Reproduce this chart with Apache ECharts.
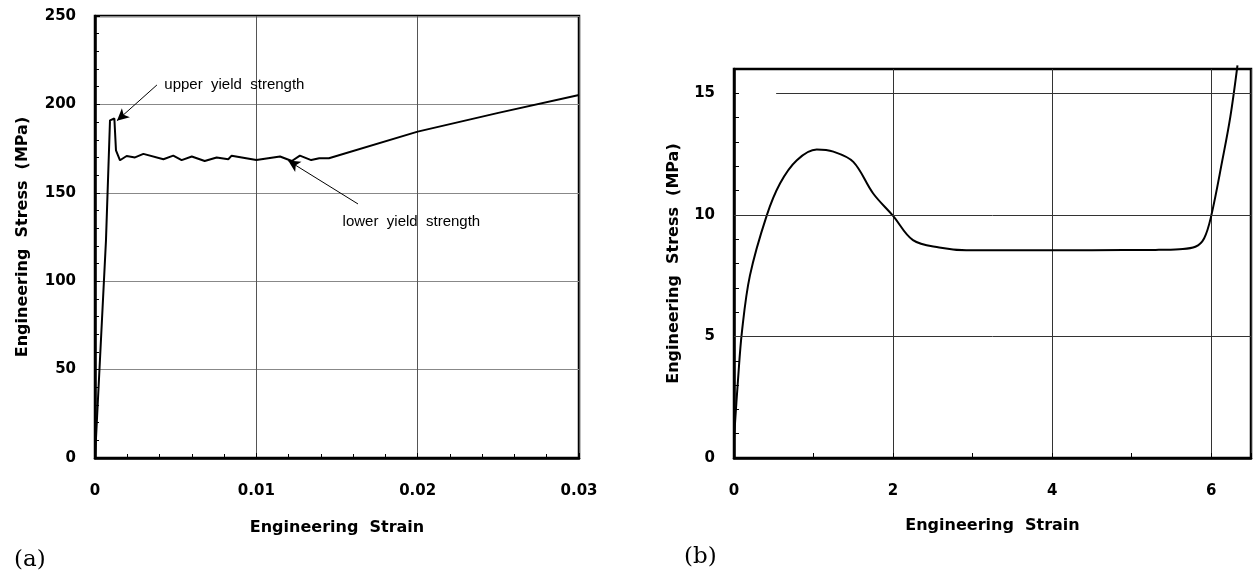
<!DOCTYPE html>
<html>
<head>
<meta charset="utf-8">
<script src="https://cdn.jsdelivr.net/npm/echarts@6/dist/echarts.min.js"></script>
<style>
  html, body { margin: 0; padding: 0; background: #fff; }
  #main { width: 1253px; height: 577px; }
</style>
</head>
<body>
<div id="main"></div>
<script>
// (a) low-carbon steel: strain / stress (MPa)
const strainA = [0, 0.00068, 0.00093, 0.0012, 0.0013, 0.00155, 0.00196, 0.00248, 0.003, 0.00424,
  0.00485, 0.00537, 0.006, 0.0068, 0.00754, 0.00826, 0.00847, 0.010, 0.01147, 0.0122, 0.0127,
  0.0134, 0.0139, 0.0145, 0.020, 0.025, 0.030];
const stressA = [0, 123, 191, 192, 174, 168.4, 170.8, 170, 172, 169,
  171, 168.5, 170.5, 168, 170, 169, 171, 168.5, 170.5, 168, 171,
  168.5, 169.5, 169.5, 184.6, 195.2, 205.3];

// (b) polymer: strain / stress (MPa)
const strainB = [0, 0.05, 0.1, 0.2, 0.41, 0.58, 0.79, 1.04, 1.25, 1.5, 1.75,
  2.0, 2.25, 2.58, 2.92, 3.5, 4.5, 5.3, 5.6, 5.8, 5.91, 6.0, 6.14, 6.24, 6.33];
const stressB = [0.8, 3.2, 5.2, 7.5, 9.96, 11.3, 12.25, 12.69, 12.6, 12.18, 10.88,
  9.96, 8.96, 8.66, 8.55, 8.55, 8.55, 8.56, 8.59, 8.69, 9.03, 9.96, 12.25, 14.03, 16.15];
const gridLinesB = [5, 10];

const upperArrow = [[0.00384, 211], [0.00136, 190.8]];
const lowerArrow = [[0.0163, 143.7], [0.01197, 168.2]];

const chart = echarts.init(document.getElementById('main'));

const labelFont = { fontFamily: 'DejaVu Sans', fontWeight: 'bold', fontSize: 15, color: '#000' };
const nameFont = { fontFamily: 'DejaVu Sans', fontWeight: 'bold', fontSize: 16, color: '#000' };
const noteFont = { fontFamily: 'Liberation Sans', fontSize: 15, color: '#000' };

function pair(xs, ys) {
  return xs.map((x, i) => [x, ys[i]]);
}

let option = {
  animation: false,
  backgroundColor: '#fff',
  grid: [
    { left: 95, top: 16, width: 484, height: 442, show: true, borderColor: '#000', borderWidth: 2.5, outerBoundsMode: 'none' },
    { left: 734, top: 69, width: 517, height: 389, show: true, borderColor: '#000', borderWidth: 2.5, outerBoundsMode: 'none' }
  ],
  xAxis: [
    {
      gridIndex: 0, type: 'value', min: 0, max: 0.03, interval: 0.01,
      name: 'Engineering  Strain', nameLocation: 'middle', nameGap: 62, nameTextStyle: nameFont,
      axisLine: { lineStyle: { color: '#000', width: 2.5 } },
      axisTick: { inside: true, length: 5, lineStyle: { color: '#000' } },
      minorTick: { show: true, splitNumber: 5, length: 4, lineStyle: { color: '#000' } },
      axisLabel: { ...labelFont, margin: 26 },
      splitLine: { show: true, lineStyle: { color: '#555', width: 1 } }
    },
    {
      gridIndex: 1, type: 'value', min: 0, max: 6.5, interval: 2,
      name: 'Engineering  Strain', nameLocation: 'middle', nameGap: 60, nameTextStyle: nameFont,
      axisLine: { lineStyle: { color: '#000', width: 2.5 } },
      axisTick: { inside: true, length: 5, lineStyle: { color: '#000' } },
      minorTick: { show: true, splitNumber: 2, length: 5, lineStyle: { color: '#000' } },
      axisLabel: { ...labelFont, margin: 26, showMaxLabel: false },
      splitLine: { show: true, lineStyle: { color: '#333', width: 1 } }
    }
  ],
  yAxis: [
    {
      gridIndex: 0, type: 'value', min: 0, max: 250, interval: 50,
      name: 'Engineering  Stress  (MPa)', nameLocation: 'middle', nameGap: 64, nameTextStyle: nameFont,
      axisLine: { lineStyle: { color: '#000', width: 2.5 } },
      axisTick: { inside: true, length: 5, lineStyle: { color: '#000' } },
      minorTick: { show: true, splitNumber: 5, length: 4, lineStyle: { color: '#000' } },
      axisLabel: { ...labelFont, margin: 19 },
      splitLine: { show: true, lineStyle: { color: '#888', width: 1 } }
    },
    {
      gridIndex: 1, type: 'value', min: 0, max: 16, interval: 5,
      name: 'Engineering  Stress  (MPa)', nameLocation: 'middle', nameGap: 52, nameTextStyle: nameFont,
      axisLine: { lineStyle: { color: '#000', width: 2.5 } },
      axisTick: { inside: true, length: 5, lineStyle: { color: '#000' } },
      minorTick: { show: true, splitNumber: 5, length: 5, lineStyle: { color: '#000' } },
      axisLabel: { ...labelFont, margin: 19, showMaxLabel: false },
      splitLine: { show: false }
    }
  ],
  series: [
    {
      type: 'line', xAxisIndex: 0, yAxisIndex: 0,
      data: pair(strainA, stressA),
      showSymbol: false, clip: false,
      lineStyle: { color: '#000', width: 2 },
      markLine: {
        silent: true, symbol: ['none', 'arrow'], symbolSize: [9, 12],
        lineStyle: { color: '#000', width: 1, type: 'solid' },
        label: { show: false },
        data: [
          [{ coord: upperArrow[0] }, { coord: upperArrow[1] }],
          [{ coord: lowerArrow[0] }, { coord: lowerArrow[1] }]
        ]
      },
      markPoint: {
        silent: true, symbolSize: 0,
        label: { show: true, position: 'right', distance: 4, ...noteFont },
        data: [
          { coord: [0.00405, 211], value: 'upper  yield  strength', label: { formatter: 'upper  yield  strength' } },
          { coord: [0.0151, 133.6], value: 'lower  yield  strength', label: { formatter: 'lower  yield  strength' } }
        ]
      }
    },
    {
      type: 'line', xAxisIndex: 1, yAxisIndex: 1,
      data: pair(strainB, stressB),
      showSymbol: false, clip: false,
      smooth: 0.35,
      lineStyle: { color: '#000', width: 2 },
      markLine: {
        silent: true, symbol: 'none',
        lineStyle: { color: '#333', width: 1, type: 'solid' },
        label: { show: false },
        data: gridLinesB.map(v => ({ yAxis: v })).concat([
          [{ coord: [0.53, 15] }, { coord: [6.5, 15] }]
        ])
      }
    }
  ],
  graphic: [
    { type: 'text', left: 14, top: 549, style: { text: '(a)', fontFamily: 'DejaVu Serif', fontSize: 23, fill: '#000' } },
    { type: 'text', left: 684, top: 546, style: { text: '(b)', fontFamily: 'DejaVu Serif', fontSize: 23, fill: '#000' } }
  ]
};

chart.setOption(option);
</script>
</body>
</html>
